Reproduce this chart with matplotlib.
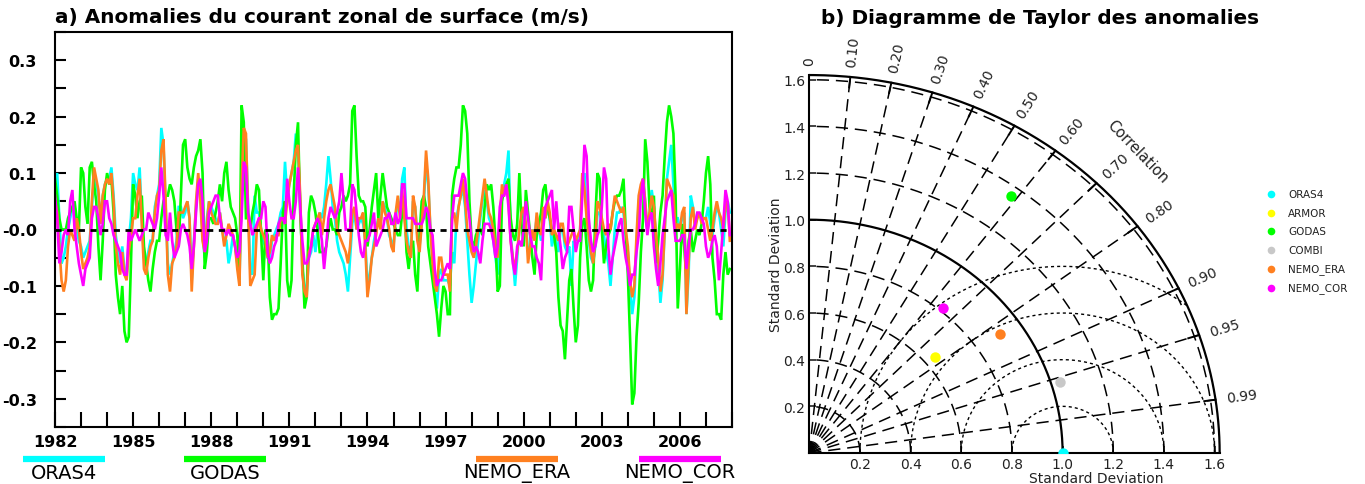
import numpy as np
import matplotlib
matplotlib.use('Agg')
import matplotlib.pyplot as plt
from matplotlib.lines import Line2D
from matplotlib import font_manager

# ---------------- data (panel a: monthly anomalies, cm/s) ----------------
start_year = 1982
series_names = ['ORAS4', 'GODAS', 'NEMO_ERA', 'NEMO_COR']
series_colors = ['#00ffff', '#00ff00', '#ff8020', '#ff00ff']

oras4_cms = [
    8, 10, 2, -6, -5, -3, 0, 2, 4, 4, 0, -2,
    -3, -5, -4, -3, -2, 4, 9, 8, 6, 2, 6, 8,
    9, 9, 11, 6, -1, -4, -6, -3, -7, -8, -2, 2,
    10, 8, 7, 11, 2, -5, -6, -4, -2, -2, 4, 6,
    8, 18, 15, 4, -6, -8, -6, -4, -2, 4, 4, 2,
    3, 5, 2, -9, -2, 4, 9, 6, -1, -5, 2, 5,
    4, 3, 2, 1, 3, 0, -2, -2, -6, -4, -1, -3,
    -6, -9, 7, 17, 16, 4, -7, -8, 6, 3, 3, 0,
    -2, -3, -5, -5, -2, -1, 0, 1, 3, 4, 12, 6,
    8, 10, 12, 17, 14, 5, -7, -10, -11, -5, -4, -1,
    -4, 0, 3, 2, 4, 8, 13, 9, 4, 2, -2, -4,
    -5, -6, -8, -11, -5, 1, 3, 0, 1, 2, 1, -2,
    -10, -8, -5, -2, 0, 2, 1, 5, 4, 2, -1, -2,
    -3, 2, 5, 3, 9, 11, 0, -3, -5, 5, 4, -1,
    -3, 1, 5, 12, 8, 0, -5, -11, -14, -8, -7, -9,
    -9, -9, -10, -4, -6, 2, 4, 6, 7, 4, -2, -8,
    -13, -10, -6, -2, 2, 5, 7, 5, 2, 1, -2, -5,
    -8, 0, 7, 8, 10, 14, -1, -5, -10, -5, 0, 2,
    3, 1, -4, -3, 0, -1, 2, 0, -2, 3, 2, 4,
    2, -3, -1, -2, -4, 0, 0, -3, -4, -3, -10, -2,
    -3, -2, 0, 8, 10, 3, -2, -5, -6, -3, 3, 3,
    1, -1, -4, -6, -10, -5, 0, 3, 3, 4, 3, -1,
    -4, -10, -15, -12, -3, 5, 7, 9, 5, 0, 3, 7,
    4, -2, -7, -13, -9, 0, 9, 12, 15, 8, 2, 2,
    0, 2, 3, -15, -8, 6, 4, 1, 2, 3, 2, 2,
    2, 4, 1, -1, 2, 4, 3, 0, -3, 3, 5, 3,
]

godas_cms = [
    9, 6, 2, 0, 0, 0, 2, 3, 4, 5, 2, 0,
    11, 10, 4, 1, 11, 12, 8, 5, -3, -9, -2, 7,
    10, 8, 9, 3, -8, -12, -15, -10, -18, -20, -19, -6,
    8, 6, 2, 5, 6, -3, -6, -9, -11, -7, -4, -2,
    -2, 2, 5, 6, 6, 8, 7, 5, 0, -3, 6, 15,
    16, 11, 9, 8, 11, 13, 14, 16, 10, -7, -4, 2,
    2, 1, 3, 5, 8, 5, 10, 12, 7, 4, 3, 2,
    -1, -9, 22, 19, 2, 2, 0, 3, 5, 8, 7, -1,
    -9, 0, -1, -12, -16, -15, -15, -14, -6, 3, 5, -9,
    -12, -9, 6, 15, 19, 3, -5, -14, -12, 3, 6, 5,
    3, 0, -4, -4, -4, -3, 0, 2, 0, 0, -1, 3,
    4, 6, 5, 6, 8, 21, 22, 13, 6, 5, 5, 4,
    -3, 0, 4, 7, 10, 2, 6, 10, 7, 4, 3, 2,
    1, 0, -1, -1, 3, 5, -4, -7, -3, -2, -8, -11,
    -1, 5, 6, 4, -3, -6, -9, -12, -15, -19, -14, -10,
    -11, -15, -15, 6, 9, 11, 11, 15, 22, 21, 17, 5,
    -2, -3, -1, 0, 0, -1, 4, 8, 7, 8, 4, -2,
    -11, -10, 5, 7, 8, 9, 2, -1, -2, 1, 10, 1,
    -3, 7, 3, -1, -5, -8, -1, 1, 3, 7, 8, 4,
    2, 0, -1, -4, -12, -17, -18, -23, -16, -9, -7, -14,
    -20, -17, -5, 1, 2, -3, -9, -11, -9, 2, 10, 9,
    0, -6, -3, -1, 0, 3, 5, 6, 6, 7, 9, 0,
    -8, -19, -31, -29, -19, -13, -4, 2, 16, 12, 4, 2,
    6, -6, -2, 3, 6, 13, 19, 22, 20, 17, 6, -14,
    -7, 1, -3, -9, -2, 0, -4, -2, 0, -1, 1, 5,
    10, 13, 8, -5, -9, -15, -15, -16, -8, -4, -8, -7,
]

nemo_era_cms = [
    5, 3, -3, -9, -11, -9, -3, 0, -1, -2, 2, 0,
    -4, -7, -6, -5, -3, 5, 11, 9, 7, 1, 6, 8,
    9, 8, 10, 5, -3, -6, -8, -4, -8, -9, -4, -1,
    2, 2, 6, 9, 1, -7, -8, -5, -3, -2, 3, 6,
    7, 14, 16, 5, -8, -11, -6, -5, -3, 3, 3, 3,
    4, 5, 2, -11, -3, 5, 10, 5, -2, -4, 1, 5,
    3, 2, 1, 1, 3, 0, -3, -1, 1, 0, -1, -3,
    -7, -10, 8, 18, 17, 3, -10, -9, -8, 0, 2, 0,
    -1, -2, -5, -4, -1, -2, -1, -1, 2, 2, 1, 5,
    8, 10, 12, 14, 15, 6, -8, -11, -12, -4, -3, 0,
    1, 2, 3, -1, 2, 5, 7, 8, 6, 4, 0, -1,
    -2, -3, -4, -6, -3, 3, 4, 0, 2, 2, 3, -3,
    -12, -9, -5, -3, -1, 2, 0, 5, 3, 2, 0, -3,
    -4, 3, 6, 2, 7, 2, -2, -4, -5, 6, 4, -2,
    -4, 1, 6, 14, 9, 0, -6, -10, -11, -5, -5, -8,
    -8, -8, -11, 2, 3, 0, 4, 6, 9, 5, 0, -2,
    -4, -5, -3, 0, 3, 6, 9, 6, 3, 2, 0, -3,
    -5, 2, 8, 6, 8, 5, -2, -5, -7, -4, 0, 3,
    4, 1, -6, -3, 0, -2, 3, 0, -1, 4, 2, 5,
    3, -1, 0, -1, -2, 1, 1, -2, -3, -2, -1, 0,
    -2, -1, 0, 10, 7, 2, -1, -4, -6, -2, 5, 4,
    2, 0, -1, 1, 0, 3, 6, 5, 4, 3, 4, 0,
    -3, -9, -12, -10, -1, 6, 8, 9, 5, 0, 3, 6,
    4, -1, -5, -11, -8, 0, 9, 8, 7, 6, 0, 1,
    0, 3, 4, -15, -6, 2, 4, 0, 2, 3, 1, 2,
    2, 0, -2, 0, 3, 5, 3, 2, 0, 4, 5, -2,
]

nemo_cor_cms = [
    6, 2, -6, -4, -1, 0, -1, 5, 7, 0, -3, -6,
    -8, -10, -7, -6, -5, 2, 4, 4, 2, -1, 1, 5,
    5, 2, 1, -1, -2, -3, -4, -7, -8, -8, 0, -2,
    -1, 0, -1, -2, -1, 0, 0, 3, 2, 1, 0, 2,
    6, 11, 6, -1, -2, 3, -2, -5, -4, -3, 0, 1,
    0, -1, -3, -7, -3, 3, 8, 9, 5, -4, -2, 3,
    4, 5, 6, 6, 2, 0, 0, -1, 0, -1, -1, -3,
    -5, -4, 2, 12, 11, 3, 1, -1, 0, 1, 2, 2,
    5, 4, -4, -6, -5, -3, -2, 1, 2, 2, 1, 9,
    5, 2, 2, 5, 11, 4, -2, -6, -6, -5, -3, 0,
    1, 2, 1, -2, -7, -3, 2, 4, 3, 2, 3, 5,
    10, 5, 0, 0, 0, 8, 7, 3, -1, -4, -5, -2,
    -2, -1, 1, 3, -3, -2, -1, 0, 2, 2, 3, 1,
    1, 3, 1, 2, 8, 8, 2, 2, 2, 2, 1, 1,
    1, 1, 2, 4, 3, 0, -1, -7, -10, -9, -9, -8,
    -7, -6, -7, 2, 6, 6, 6, 8, 10, 9, 5, 2,
    -2, -4, -3, -4, -6, -2, 1, 1, 1, 0, -2, -5,
    -3, 4, 6, 6, 8, 4, -2, -6, -8, -3, -2, -3,
    0, 5, 2, -1, -3, -3, -5, -6, -9, 0, 4, 5,
    6, 7, 0, 5, 0, -3, -7, -5, -4, 4, 4, 0,
    -4, -2, -2, 6, 15, 13, 2, -2, -4, -3, -1, 0,
    4, 11, 9, -3, -8, -5, -3, -1, 1, 2, -2, -5,
    -7, -10, -8, -8, -4, -1, 6, 9, 3, -1, 2, 3,
    -3, -7, -10, -6, -1, 2, 5, 6, 7, 2, -2, -2,
    -2, -1, -1, -7, -3, 0, 0, 1, 3, 3, 2, 1,
    -3, -5, -4, -2, -1, -3, -9, -4, 1, 7, 5, -1,
]

year_ticks = list(range(1982, 2009))
year_labels = [1982, 1985, 1988, 1991, 1994, 1997, 2000, 2003, 2006]
y_major = [-0.3, -0.2, -0.1, 0.0, 0.1, 0.2, 0.3]
y_major_labels = ['-0.3', '-0.2', '-0.1', '-0.0', '0.1', '0.2', '0.3']
y_minor = [-0.35, -0.25, -0.15, -0.05, 0.05, 0.15, 0.25, 0.35]

# ---------------- data (panel b: Taylor diagram) ----------------
taylor_names = ['ORAS4', 'ARMOR', 'GODAS', 'COMBI', 'NEMO_ERA', 'NEMO_COR']
taylor_colors = ['#00ffff', '#ffff00', '#00ff00', '#c8c8c8', '#ff8020', '#ff00ff']
taylor_std = [1.0, 0.642, 1.357, 1.035, 0.909, 0.814]
taylor_corr = [1.0, 0.770, 0.586, 0.956, 0.828, 0.648]
corr_ticks = [0.0, 0.1, 0.2, 0.3, 0.4, 0.5, 0.6, 0.7, 0.8, 0.9, 0.95, 0.99]
corr_labels = ['0', '0.10', '0.20', '0.30', '0.40', '0.50', '0.60', '0.70',
               '0.80', '0.90', '0.95', '0.99']
std_ticks = [0.2, 0.4, 0.6, 0.8, 1.0, 1.2, 1.4, 1.6]
std_labels = ['0.2', '0.4', '0.6', '0.8', '1.0', '1.2', '1.4', '1.6']
rms_levels = [0.2, 0.4, 0.6, 0.8]
std_ref = 1.0
std_max = 1.62

# narrow font for the bottom legend, if present
_names = {f.name for f in font_manager.fontManager.ttflist}
narrow_family = ['Liberation Sans Narrow', 'DejaVu Sans'] if 'Liberation Sans Narrow' in _names \
    else ['DejaVu Sans']

# ---------------- figure ----------------
W, H = 1365, 485
fig = plt.figure(figsize=(W / 100, H / 100), dpi=100)


def fx(px):
    return px / W


def fy(py):
    return 1 - py / H


# ---------- panel a ----------
ax1 = fig.add_axes([fx(55), fy(428), (732 - 55) / W, (428 - 33) / H])
t = start_year + np.arange(len(godas_cms)) / 12.0
for vals, col in zip([oras4_cms, godas_cms, nemo_era_cms, nemo_cor_cms], series_colors):
    ax1.plot(t, np.array(vals) / 100.0, color=col, lw=1.9, solid_joinstyle='miter')
ax1.axhline(0.0, color='black', lw=2.0, dashes=(2.2, 2.0), zorder=5)
ax1.set_xlim(1982, 2008)
ax1.set_ylim(-0.35, 0.35)
ax1.set_xticks(year_ticks)
ax1.set_xticklabels([str(y) if y in year_labels else '' for y in year_ticks])
ax1.set_yticks(y_major)
ax1.set_yticklabels(y_major_labels)
ax1.set_yticks(y_minor, minor=True)
ax1.tick_params(axis='x', direction='in', length=11, width=1.5, pad=5,
                labelsize=11.5, top=False)
ax1.tick_params(axis='y', which='both', direction='in', length=8, width=1.5,
                pad=13, labelsize=11.5, right=False)
for lab in ax1.get_xticklabels() + ax1.get_yticklabels():
    lab.set_fontweight('bold')
for sp in ax1.spines.values():
    sp.set_linewidth(1.5)

fig.text(fx(55), fy(18), 'a) Anomalies du courant zonal de surface (m/s)',
         fontsize=14.4, fontweight='bold', ha='left', va='center')

# bottom legend
bar_x0 = [23, 184, 476, 639]
for x0, col, name in zip(bar_x0, series_colors, series_names):
    fig.add_artist(Line2D([fx(x0), fx(x0 + 82)], [fy(460), fy(460)], color=col,
                          lw=4.5, solid_capstyle='butt'))
    fig.text(fx(x0 + 41), fy(474), name, fontsize=14, ha='center', va='center',
             family=narrow_family)

# ---------- panel b ----------
ox, oy = 809.3, 454.0
sx, sy = 253.3, 233.3  # px per unit
lim = 1.7
ax2 = fig.add_axes([fx(ox), fy(oy), lim * sx / W, lim * sy / H])
ax2.set_xlim(0, lim)
ax2.set_ylim(0, lim)
ax2.set_facecolor('none')
for k in ['top', 'right']:
    ax2.spines[k].set_visible(False)
for k in ['left', 'bottom']:
    ax2.spines[k].set_bounds(0, std_max)
    ax2.spines[k].set_linewidth(1.5)
ax2.set_xticks(std_ticks)
ax2.set_xticklabels(std_labels)
ax2.set_yticks(std_ticks)
ax2.set_yticklabels(std_labels)
ax2.tick_params(direction='in', length=5, width=1.2, labelsize=10, pad=3,
                colors='#222222')

th = np.linspace(0, np.pi / 2, 300)
# std-dev arcs
for r in std_ticks:
    if abs(r - std_ref) < 1e-9:
        ax2.plot(r * np.cos(th), r * np.sin(th), color='black', lw=1.6)
    else:
        ax2.plot(r * np.cos(th), r * np.sin(th), color='black', lw=1.1,
                 dashes=(8, 4.5))
ax2.plot(std_max * np.cos(th), std_max * np.sin(th), color='black', lw=1.6)

# correlation rays
for c in corr_ticks[1:]:
    a = np.arccos(c)
    ax2.plot([0, std_max * np.cos(a)], [0, std_max * np.sin(a)], color='black',
             lw=1.1, dashes=(8, 4.5))
    ax2.plot([1.575 * np.cos(a), std_max * np.cos(a)],
             [1.575 * np.sin(a), std_max * np.sin(a)], color='black', lw=1.4)

# RMS arcs
tt = np.linspace(0, np.pi, 600)
for r in rms_levels:
    xx = std_ref + r * np.cos(tt)
    yy = r * np.sin(tt)
    m = xx ** 2 + yy ** 2 <= std_max ** 2
    ax2.plot(xx[m], yy[m], color='black', lw=1.0, dashes=(2.2, 2.2))

# correlation labels
for c, lab in zip(corr_ticks, corr_labels):
    a = np.arccos(c)
    rl = 1.665
    rot = np.degrees(np.arctan2(sy * np.sin(a), sx * np.cos(a)))
    ax2.text(rl * np.cos(a), rl * np.sin(a), lab, rotation=rot,
             rotation_mode='anchor', ha='left', va='center', fontsize=10,
             color='#222222', clip_on=False)
ca = np.radians(45)
ax2.text(1.83 * np.cos(ca), 1.83 * np.sin(ca), 'Correlation', rotation=-46,
         rotation_mode='anchor', ha='center', va='center', fontsize=10.5,
         color='#222222', clip_on=False)

# points
for s, c, col in zip(taylor_std, taylor_corr, taylor_colors):
    a = np.arccos(c)
    ax2.plot(s * np.cos(a), s * np.sin(a), 'o', color=col, ms=7.5,
             markeredgewidth=0, zorder=6)

fig.text(fx(776), fy(265), 'Standard Deviation', rotation=90, fontsize=10,
         ha='center', va='center', color='#222222')
fig.text(fx(1096), fy(479), 'Standard Deviation', fontsize=10,
         ha='center', va='center', color='#222222')

fig.text(fx(1040), fy(18), 'b) Diagramme de Taylor des anomalies',
         fontsize=14.4, fontweight='bold', ha='center', va='center')

# Taylor legend
leg_y0, leg_dy = 195, 18.7
for i, (name, col) in enumerate(zip(taylor_names, taylor_colors)):
    yy = leg_y0 + i * leg_dy
    fig.add_artist(Line2D([fx(1271)], [fy(yy)], marker='o', color=col, ms=5.5,
                          markeredgewidth=0, linestyle='none'))
    fig.text(fx(1288), fy(yy), name, fontsize=7.5, ha='left', va='center',
             color='#222222')

fig.savefig('out.png', dpi=100)
